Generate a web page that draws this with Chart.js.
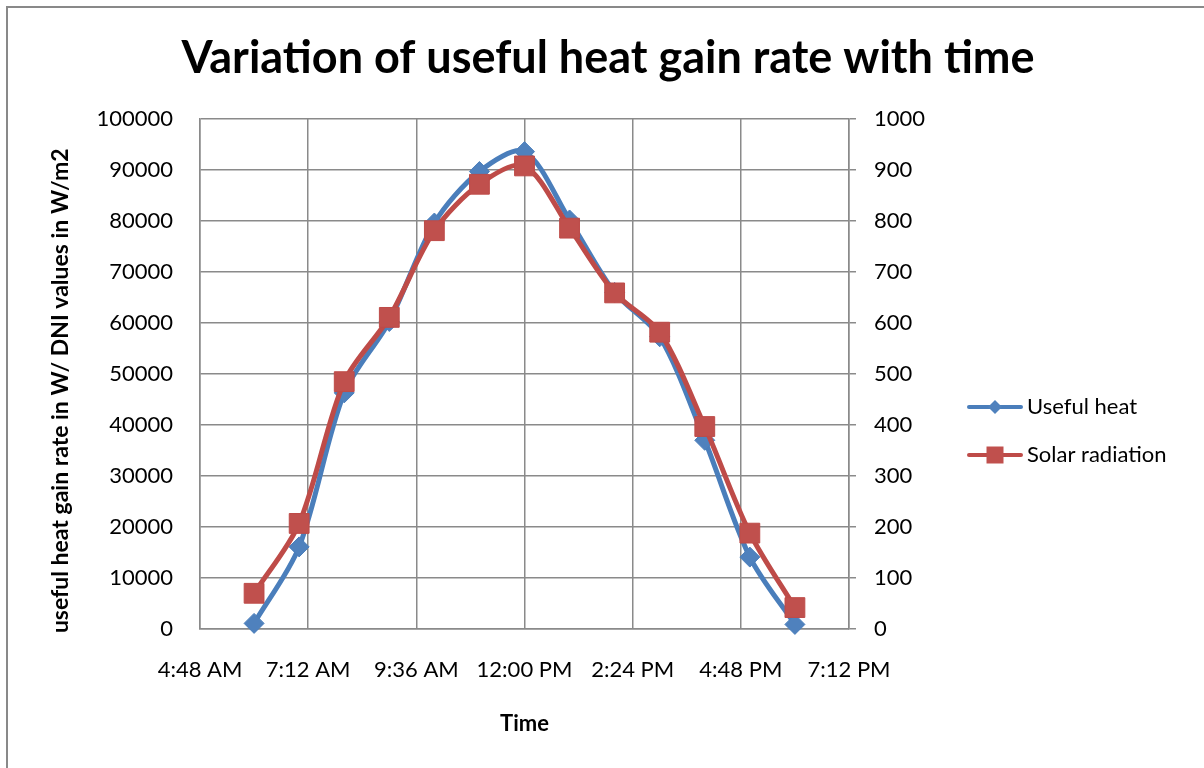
<!DOCTYPE html>
<html>
<head>
<meta charset="utf-8">
<title>Variation of useful heat gain rate with time</title>
<script src="https://cdn.jsdelivr.net/npm/chart.js@4.4.0/dist/chart.umd.min.js"></script>
<style>
  html, body { margin: 0; padding: 0; background: #fff; overflow: hidden; }
  #frame { position: absolute; left: 6px; top: 6px; width: 1400px; height: 1000px; border: 2px solid #898989; }
  #wrap { position: absolute; left: 0; top: 0; width: 1204px; height: 768px; }
</style>
</head>
<body>
<div id="frame"></div>
<div id="wrap"><canvas id="heatChart" width="1204" height="768"></canvas></div>
<script>
// readings, one per hour
const timeHours = [6, 7, 8, 9, 10, 11, 12, 13, 14, 15, 16, 17, 18];
const usefulHeat = [1100, 16100, 46300, 60300, 79600, 89700, 93600, 80200, 66000, 57300, 37000, 14100, 900];
const solarRadiation = [70, 207, 485, 611, 781, 872, 908, 786, 659, 582, 397, 188, 42];
const seriesNames = ['Useful heat', 'Solar radiation'];
const xTickLabels = ['4:48 AM', '7:12 AM', '9:36 AM', '12:00 PM', '2:24 PM', '4:48 PM', '7:12 PM'];
const xStart = 288;   // minutes after midnight (4:48 AM)
const xStep = 144;    // 2h24m between labels

const blueLine = '#4A7EBB', blueFill = '#4F81BD';
const redLine = '#BE4B48', redFill = '#C0504D';
const gridColor = '#8a8a8a';
const fontFamily = 'Lato';

// little legend icons: line with the marker in the middle
function makeIcon(line, fill, shape) {
  const c = document.createElement('canvas');
  c.width = 56; c.height = 22;
  const g = c.getContext('2d');
  g.strokeStyle = line;
  g.lineWidth = 4;
  g.lineCap = 'round';
  g.beginPath(); g.moveTo(2, 11); g.lineTo(54, 11); g.stroke();
  g.fillStyle = fill;
  g.beginPath();
  if (shape === 'diamond') {
    g.moveTo(28, 4); g.lineTo(35, 11); g.lineTo(28, 18); g.lineTo(21, 11);
  } else {
    g.rect(19.5, 2.5, 17, 17);
  }
  g.closePath(); g.fill();
  return c;
}
const legendIcons = [makeIcon(blueLine, blueFill, 'diamond'), makeIcon(redLine, redFill, 'square')];

// work out side padding so the legend and title land where they should
const mctx = document.createElement('canvas').getContext('2d');
mctx.font = 'normal 22px ' + fontFamily;
const longest = Math.max(...seriesNames.map(n => mctx.measureText(n).width));
const legendWidth = 26 + 42 + 11 + longest + 10;
const padRight = Math.max(0, 1204 - 948 - legendWidth);
const padLeft = Math.min(40, 12 + padRight);

const ctx = document.getElementById('heatChart').getContext('2d');
new Chart(ctx, {
  type: 'line',
  data: {
    datasets: [
      {
        label: seriesNames[0],
        data: timeHours.map((h, i) => ({ x: h * 60, y: usefulHeat[i] })),
        yAxisID: 'y',
        borderColor: blueLine,
        backgroundColor: blueFill,
        borderWidth: 5,
        tension: 0.3,
        pointStyle: 'rectRot',
        pointRadius: 10,
        pointBorderWidth: 1,
        pointBorderColor: blueLine,
        pointBackgroundColor: blueFill,
        clip: false,
        order: 1,
      },
      {
        label: seriesNames[1],
        data: timeHours.map((h, i) => ({ x: h * 60, y: solarRadiation[i] })),
        yAxisID: 'y2',
        borderColor: redLine,
        backgroundColor: redFill,
        borderWidth: 5,
        tension: 0.3,
        pointStyle: 'rect',
        pointRadius: 14,
        pointBorderWidth: 1,
        pointBorderColor: redLine,
        pointBackgroundColor: redFill,
        clip: false,
        order: 0,
      },
    ],
  },
  options: {
    responsive: false,
    animation: false,
    layout: { padding: { top: 0, bottom: 0, left: padLeft, right: padRight } },
    plugins: {
      title: {
        display: true,
        text: 'Variation of useful heat gain rate with time',
        color: '#000',
        font: { family: fontFamily, size: 45, weight: 'bold' },
        padding: { top: 31, bottom: 34 },
      },
      legend: {
        position: 'right',
        align: 'center',
        maxWidth: 400,
        title: { display: true, text: ' ', padding: 0, font: { size: 10, lineHeight: '94px' } },
        labels: {
          color: '#000',
          font: { family: fontFamily, size: 22 },
          usePointStyle: true,
          pointStyleWidth: 42,
          padding: 26,
          sort: (a, b) => a.datasetIndex - b.datasetIndex,
          generateLabels: chart => {
            const items = Chart.defaults.plugins.legend.labels.generateLabels(chart);
            items.forEach(it => { it.pointStyle = legendIcons[it.datasetIndex]; });
            return items;
          },
        },
      },
      tooltip: { enabled: false },
    },
    scales: {
      x: {
        type: 'linear',
        min: xStart,
        max: xStart + xStep * (xTickLabels.length - 1),
        afterFit: s => { s.height = 139; },
        grid: { color: gridColor, lineWidth: 1.5, drawTicks: false },
        border: { color: gridColor, width: 1.5 },
        ticks: {
          stepSize: xStep,
          padding: 28,
          color: '#000',
          font: { family: fontFamily, size: 22 },
          maxRotation: 0,
          callback: v => xTickLabels[Math.round((v - xStart) / xStep)],
        },
        title: {
          display: true,
          text: 'Time',
          color: '#000',
          font: { family: fontFamily, size: 22, weight: 'bold' },
          padding: { top: 0, bottom: 31 },
        },
      },
      y: {
        position: 'left',
        min: 0,
        max: 100000,
        afterFit: s => { s.width = 200 - padLeft; },
        grid: { color: gridColor, lineWidth: 1.5, drawTicks: false },
        border: { color: gridColor, width: 1.5 },
        ticks: {
          stepSize: 10000,
          padding: 27,
          color: '#000',
          font: { family: fontFamily, size: 22 },
          callback: v => String(v),
        },
        title: {
          display: true,
          text: 'useful heat gain rate in W/ DNI values in W/m2      ',
          color: '#000',
          font: { family: fontFamily, size: 23, weight: 'bold' },
          padding: { top: Math.max(0, 47 - padLeft), bottom: 0 },
        },
      },
      y2: {
        position: 'right',
        min: 0,
        max: 1000,
        afterFit: s => { s.width = 99; },
        grid: { drawOnChartArea: false, color: gridColor, lineWidth: 1.5, tickLength: 7 },
        border: { color: gridColor, width: 1.5 },
        ticks: {
          stepSize: 100,
          padding: 18,
          color: '#000',
          font: { family: fontFamily, size: 22 },
          callback: v => String(v),
        },
      },
    },
  },
});
</script>
</body>
</html>
